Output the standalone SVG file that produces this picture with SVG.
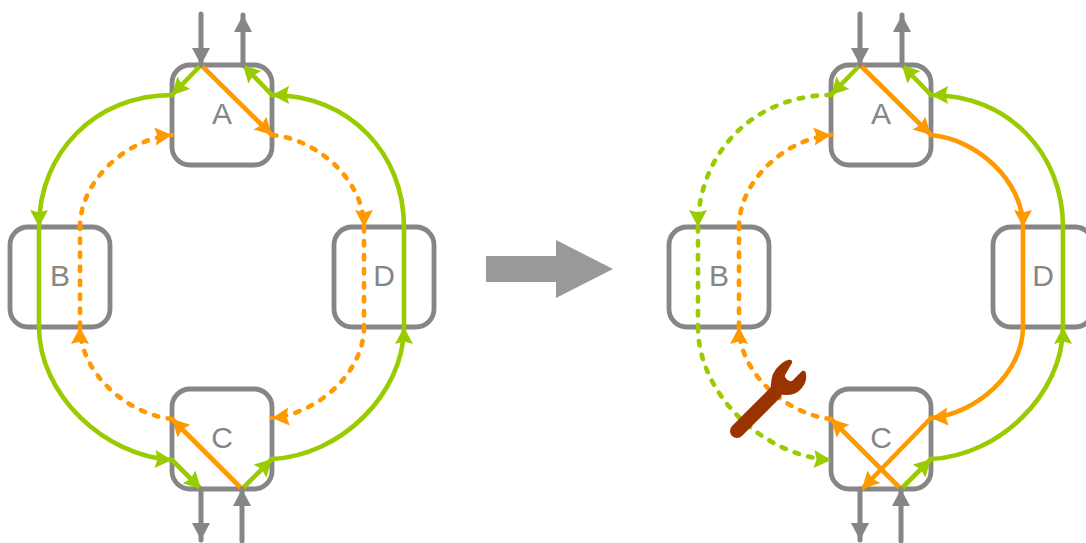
<svg xmlns="http://www.w3.org/2000/svg" width="1086" height="543" viewBox="0 0 1086 543">
<style>
.box{fill:#fff;stroke:#868686;stroke-width:4.8}
.t{font-family:"Liberation Sans",Arial,sans-serif;font-size:30px;fill:#868686;text-anchor:middle}
path.c{fill:none;stroke-width:4.6;stroke-linecap:round}
.g{stroke:#99cc00}.o{stroke:#ff9900}
path.k{stroke:#868686;stroke-width:5}
.d{stroke-dasharray:4.5 9.5}
</style>
<defs>
<marker id="mg" markerUnits="userSpaceOnUse" markerWidth="20" markerHeight="20" refX="17" refY="9" orient="auto" overflow="visible"><path d="M0 0L17 9L0 18L2.5 9Z" fill="#99cc00"/></marker>
<marker id="mo" markerUnits="userSpaceOnUse" markerWidth="20" markerHeight="20" refX="17" refY="9" orient="auto" overflow="visible"><path d="M0 0L17 9L0 18L2.5 9Z" fill="#ff9900"/></marker>
<marker id="mk" markerUnits="userSpaceOnUse" markerWidth="20" markerHeight="20" refX="17" refY="9" orient="auto" overflow="visible"><path d="M0 0L17 9L0 18Z" fill="#868686"/></marker>
</defs>
<g id="node-a1"><rect class="box" x="172" y="65" width="100" height="100" rx="18"/><text class="t" x="222" y="124">A</text></g>
<g id="node-b1"><rect class="box" x="10" y="227" width="100" height="100" rx="18"/><text class="t" x="60" y="286">B</text></g>
<g id="node-c1"><rect class="box" x="172" y="389" width="100" height="100" rx="18"/><text class="t" x="222" y="448">C</text></g>
<g id="node-d1"><rect class="box" x="334" y="227" width="100" height="100" rx="18"/><text class="t" x="384" y="286">D</text></g>
<g id="node-a2"><rect class="box" x="831" y="65" width="100" height="100" rx="18"/><text class="t" x="881" y="124">A</text></g>
<g id="node-b2"><rect class="box" x="669" y="227" width="100" height="100" rx="18"/><text class="t" x="719" y="286">B</text></g>
<g id="node-c2"><rect class="box" x="831" y="389" width="100" height="100" rx="18"/><text class="t" x="881" y="448">C</text></g>
<g id="node-d2"><rect class="box" x="993" y="227" width="100" height="100" rx="18"/><text class="t" x="1043" y="286">D</text></g>
<g id="connectors">
<path class="c g" d="M201 65L172 95" marker-end="url(#mg)"/>
<path class="c g" d="M172 95C95 95 39 153 39 227" marker-end="url(#mg)"/>
<path class="c g" d="M39 227V327"/>
<path class="c g" d="M39 327C39 394 104 456 172 460" marker-end="url(#mg)"/>
<path class="c g" d="M172 460L201 489" marker-end="url(#mg)"/>
<path class="c g" d="M242 489L272 459" marker-end="url(#mg)"/>
<path class="c g" d="M272 459C340 456 404 394 404 327" marker-end="url(#mg)"/>
<path class="c g" d="M404 327V227"/>
<path class="c g" d="M404 227C404 153 349 95 272 95" marker-end="url(#mg)"/>
<path class="c g" d="M272 95L243 65" marker-end="url(#mg)"/>
<path class="c o" d="M201 65L272 135" marker-end="url(#mo)"/>
<path class="c o d" d="M272 135C318 139 364 181 364 227" marker-end="url(#mo)"/>
<path class="c o d" d="M364 227V327"/>
<path class="c o d" d="M364 327C364 372 318 414 272 418" marker-end="url(#mo)"/>
<path class="c o" d="M242 489L172 419" marker-end="url(#mo)"/>
<path class="c o d" d="M172 419C126 414 80 372 80 327" marker-end="url(#mo)"/>
<path class="c o d" d="M80 327V227"/>
<path class="c o d" d="M80 227C80 181 126 139 172 135" marker-end="url(#mo)"/>
<path class="c k" d="M201 14V65" marker-end="url(#mk)"/>
<path class="c k" d="M243 65V15" marker-end="url(#mk)"/>
<path class="c k" d="M201 489V540" marker-end="url(#mk)"/>
<path class="c k" d="M242 541V489" marker-end="url(#mk)"/>
<path class="c g" d="M860 65L831 95" marker-end="url(#mg)"/>
<path class="c g d" d="M831 95C754 95 698 153 698 227" marker-end="url(#mg)"/>
<path class="c g d" d="M698 227V327"/>
<path class="c g d" d="M698 327C698 394 763 456 831 460" marker-end="url(#mg)"/>
<path class="c g" d="M901 489L931 459" marker-end="url(#mg)"/>
<path class="c g" d="M931 459C999 456 1063 394 1063 327" marker-end="url(#mg)"/>
<path class="c g" d="M1063 327V227"/>
<path class="c g" d="M1063 227C1063 153 1008 95 931 95" marker-end="url(#mg)"/>
<path class="c g" d="M931 95L902 65" marker-end="url(#mg)"/>
<path class="c o" d="M860 65L931 135" marker-end="url(#mo)"/>
<path class="c o" d="M931 135C977 139 1023 181 1023 227" marker-end="url(#mo)"/>
<path class="c o" d="M1023 227V327"/>
<path class="c o" d="M1023 327C1023 372 977 414 931 418" marker-end="url(#mo)"/>
<path class="c o" d="M931 418L862 489" marker-end="url(#mo)"/>
<path class="c o" d="M901 489L831 419" marker-end="url(#mo)"/>
<path class="c o d" d="M831 419C785 414 739 372 739 327" marker-end="url(#mo)"/>
<path class="c o d" d="M739 327V227"/>
<path class="c o d" d="M739 227C739 181 785 139 831 135" marker-end="url(#mo)"/>
<path class="c k" d="M860 14V65" marker-end="url(#mk)"/>
<path class="c k" d="M902 65V15" marker-end="url(#mk)"/>
<path class="c k" d="M860 489V540" marker-end="url(#mk)"/>
<path class="c k" d="M901 541V489" marker-end="url(#mk)"/>
</g>
<polygon id="big-arrow" points="486,256 556,256 556,240 613,269 556,298 556,282 486,282" fill="#999999"/>
<g id="wrench" fill="#993300">
<path d="M737 431L775 393" fill="none" stroke="#993300" stroke-width="14" stroke-linecap="round"/>
<path d="M770 392C771 386 771 381 772 377C774 370 781 362 788 360C791 359 793 361 792 363L785 375C784 378 789 382 792 381L802 371C804 370 806 371 806 374C807 381 804 386 800 390C795 395 788 396 778 394Z"/>
</g>
</svg>
